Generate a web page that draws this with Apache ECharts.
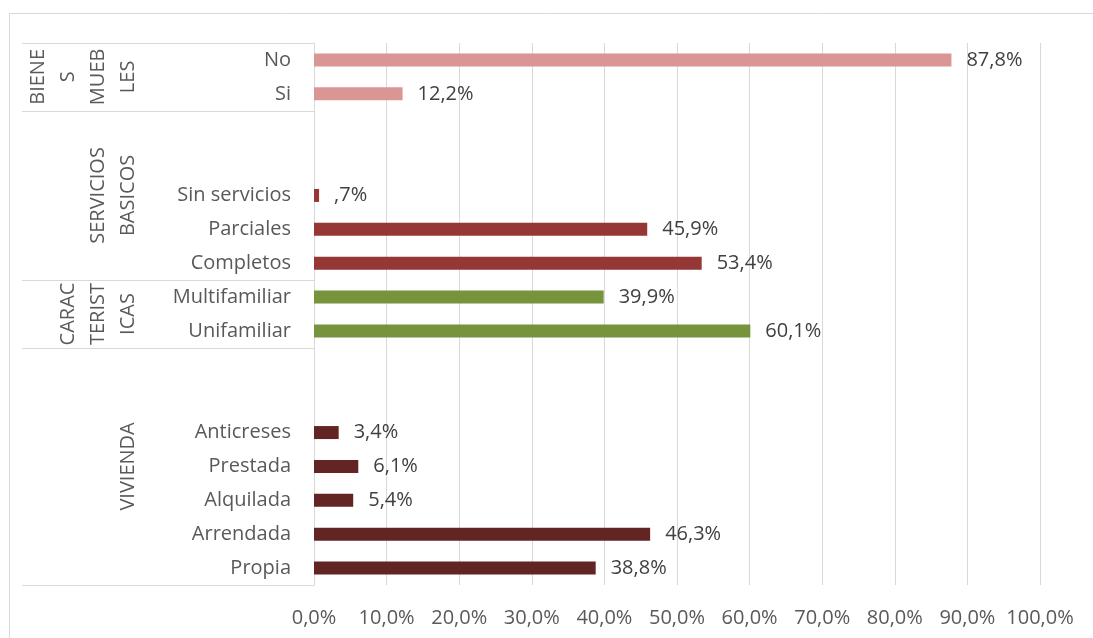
<!DOCTYPE html>
<html>
<head>
<meta charset="utf-8">
<script src="https://cdn.jsdelivr.net/npm/echarts@6/dist/echarts.min.js"></script>
<style>
html,body{margin:0;padding:0;background:#fff;}
#c{width:1093px;height:638px;}
</style>
</head>
<body>
<div id="c"></div>
<script>
// Categories bottom -> top ('' = empty slot in the group)
const categories = ['Propia','Arrendada','Alquilada','Prestada','Anticreses','','',
  'Unifamiliar','Multifamiliar',
  'Completos','Parciales','Sin servicios','','',
  'Si','No'];
const values = [38.8,46.3,5.4,6.1,3.4,null,null,
  60.1,39.9,
  53.4,45.9,0.7,null,null,
  12.2,87.8];
// group of each category (index into groups arrays)
const groupOf = [0,0,0,0,0,0,0, 1,1, 2,2,2,2,2, 3,3];
const groupLabels = ['VIVIENDA','CARAC\nTERIST\nICAS','SERVICIOS\nBASICOS','BIENE\nS\nMUEB\nLES'];
const groupRanges = [[0,6],[7,8],[9,13],[14,15]];
const groupColors = ['#632523','#77933C','#953735','#D99694'];
const xTicks = [0,10,20,30,40,50,60,70,80,90,100];

const FONT = '"Open Sans", sans-serif';
const FS = 20;
const fmtPct = v => {
  let s = v.toFixed(1).replace('.', ',');
  if (v > 0 && v < 1) s = s.replace(/^0/, '');
  return s + '%';
};

const chart = echarts.init(document.getElementById('c'), null, {renderer:'canvas'});

const barData = values.map((v,i) => v == null ? '-' : {
  value: v,
  itemStyle: {color: groupColors[groupOf[i]]}
});

const option = {
  animation: false,
  textStyle: {fontFamily: FONT},
  graphic: [{
    type: 'rect', silent: true, z: -10,
    shape: {x: 9.5, y: 13.5, width: 1200, height: 800},
    style: {fill: 'none', stroke: '#D9D9D9', lineWidth: 1}
  }],
  grid: {left: 314, right: 53, top: 43, bottom: 53, containLabel: false},
  xAxis: {
    type: 'value', min: xTicks[0], max: xTicks[xTicks.length-1], interval: 10,
    axisLine: {show: false}, axisTick: {show: false},
    splitLine: {show: true, lineStyle: {color: '#D9D9D9', width: 1}},
    axisLabel: {
      color: '#595959', fontSize: FS, fontFamily: FONT, margin: 23,
      formatter: v => v.toFixed(1).replace('.', ',') + '%'
    }
  },
  yAxis: {
    type: 'category', data: categories,
    axisLine: {show: true, lineStyle: {color: '#D9D9D9', width: 1}},
    axisTick: {show: false},
    axisLabel: {color: '#595959', fontSize: FS, fontFamily: FONT, margin: 23}
  },
  series: [{
    type: 'bar', data: barData, barWidth: 13,
    label: {
      show: true, position: 'right', distance: 15,
      color: '#404040', fontSize: FS, fontFamily: FONT,
      formatter: p => fmtPct(p.value)
    }
  },{
    type: 'custom', clip: false, silent: true,
    data: groupRanges.map(r => [0, r[0], r[1]]),
    encode: {x: 0, y: [1, 2]},
    renderItem: (params, api) => {
      const s = api.value(1), e = api.value(2);
      const band = api.size([0, 1])[1];
      const yTop = api.coord([0, e])[1] - band / 2;
      const yBot = api.coord([0, s])[1] + band / 2;
      const xAxis0 = api.coord([0, s])[0];
      const label = groupLabels[params.dataIndex];
      const n = label.split('\n').length;
      const lh = 30;
      const cx = 128 - (n - 1) * lh / 2;
      return {
        type: 'group',
        children: [
          {type: 'line', shape: {x1: 22, y1: Math.round(yTop)+0.5, x2: xAxis0, y2: Math.round(yTop)+0.5},
           style: {stroke: '#D9D9D9', lineWidth: 1}},
          {type: 'line', shape: {x1: 22, y1: Math.round(yBot)+0.5, x2: xAxis0, y2: Math.round(yBot)+0.5},
           style: {stroke: '#D9D9D9', lineWidth: 1}},
          {type: 'text', x: cx, y: (yTop + yBot) / 2, rotation: Math.PI / 2,
           style: {text: label, fill: '#595959', fontSize: FS, fontFamily: FONT,
                   align: 'center', verticalAlign: 'middle', lineHeight: lh}}
        ]
      };
    }
  }]
};
chart.setOption(option);
</script>
</body>
</html>
